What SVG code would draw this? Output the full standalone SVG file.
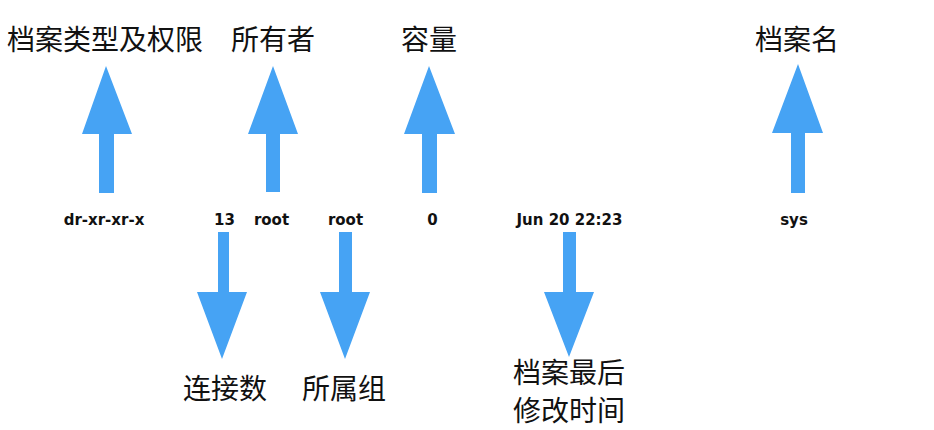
<svg xmlns="http://www.w3.org/2000/svg" width="934" height="430" viewBox="0 0 934 430">
<style>
.lbl{font-family:"Noto Sans CJK SC","Noto Sans",sans-serif;font-size:28px;fill:#111;}
.val{font-family:"DejaVu Sans","Liberation Sans",sans-serif;font-weight:bold;font-size:15px;fill:#111;text-anchor:middle;}
.arr{fill:#46A3F4;}
</style>
<rect width="934" height="430" fill="#fff"/>
<g id="connectors">
<polygon class="arr" points="106,66 132,134 114,134 114,193 99,193 99,134 82,134"/>
<polygon class="arr" points="273,66 298,134 280,134 280,192 266,192 266,134 248,134"/>
<polygon class="arr" points="429,66 455,134 437,134 437,193 422,193 422,134 404,134"/>
<polygon class="arr" points="798,64 823,133 805,133 805,193 791,193 791,133 772,133"/>
<polygon class="arr" points="218,232 229,232 229,292 247,292 222,359 197,292 218,292"/>
<polygon class="arr" points="339,232 352,232 352,292 370,292 345,359 320,292 339,292"/>
<polygon class="arr" points="563,232 576,232 576,292 594,292 569,357 544,292 563,292"/>
</g>
<g id="n-type"><text class="lbl" x="7" y="50">档案类型及权限</text></g>
<g id="n-owner"><text class="lbl" x="231" y="50">所有者</text></g>
<g id="n-size"><text class="lbl" x="401" y="50">容量</text></g>
<g id="n-name"><text class="lbl" x="755" y="50">档案名</text></g>
<g id="n-links"><text class="lbl" x="183" y="399">连接数</text></g>
<g id="n-group"><text class="lbl" x="302" y="399">所属组</text></g>
<g id="n-time"><text class="lbl" x="513" y="383">档案最后</text><text class="lbl" x="513" y="421">修改时间</text></g>
<g id="values">
<text class="val" x="104" y="225">dr-xr-xr-x</text>
<text class="val" x="224.5" y="225">13</text>
<text class="val" x="271.5" y="225">root</text>
<text class="val" x="345.5" y="225">root</text>
<text class="val" x="432.5" y="225">0</text>
<text class="val" x="569.5" y="225">Jun 20 22:23</text>
<text class="val" x="794" y="225">sys</text>
</g>
</svg>
